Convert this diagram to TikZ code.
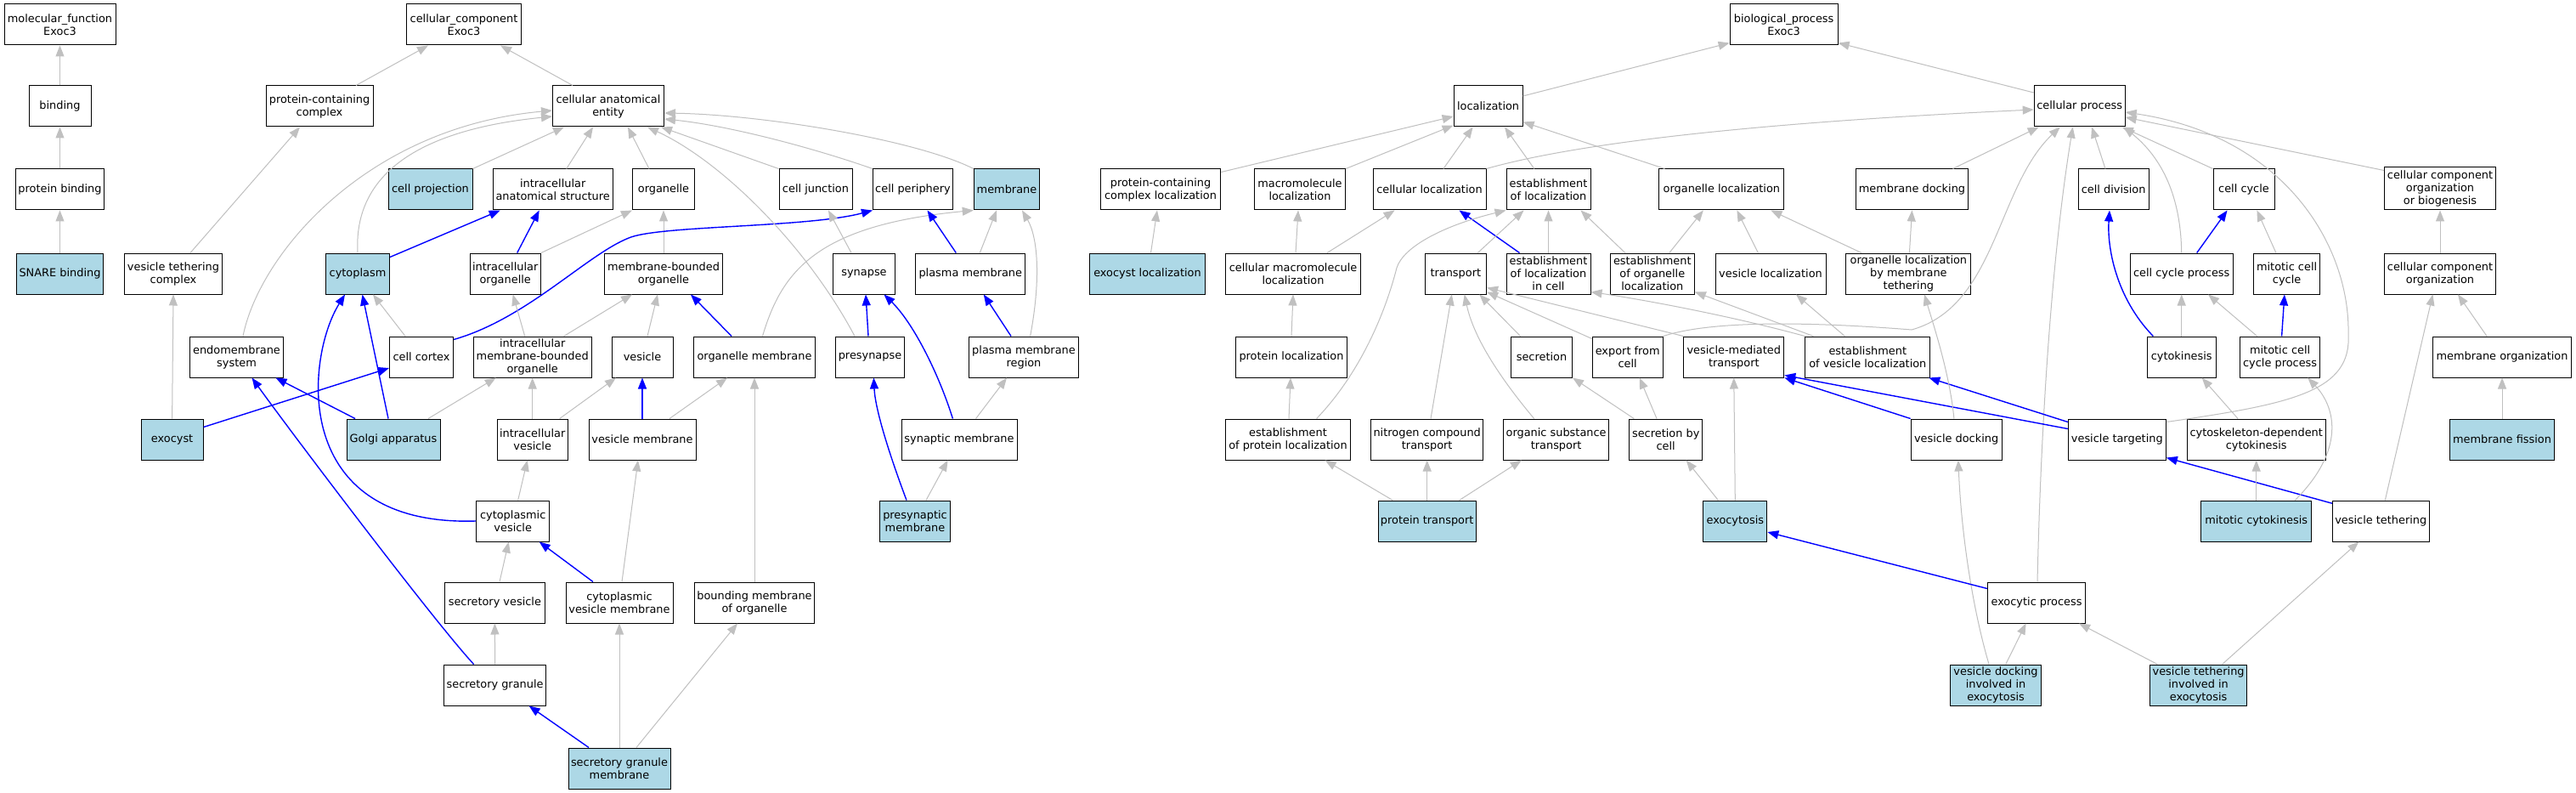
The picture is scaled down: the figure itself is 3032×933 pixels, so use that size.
\documentclass[tikz,border=0pt]{standalone}
\usepackage{fontspec}
\setmainfont{DejaVu Sans}
\usetikzlibrary{arrows.meta}
\definecolor{edgegray}{RGB}{192,192,192}
\definecolor{termblue}{RGB}{173,216,230}
\begin{document}
\begin{tikzpicture}[x=1pt,y=-1pt,
  box/.style={draw=black, line width=1pt, fill=white, rectangle, minimum height=48pt, inner sep=1pt, align=center, font=\fontsize{12.9}{15}\selectfont},
  hit/.style={box, fill=termblue},
  isa/.style={draw=edgegray, line width=1pt, -{Triangle[length=13pt,width=10pt]}},
  po/.style={draw=blue, line width=1.4pt, -{Triangle[length=13pt,width=10pt]}}
]
\useasboundingbox (0,0) rectangle (3032,933);
\fill[white] (0,0) rectangle (3032,933);

% ---------- molecular function ----------
\node[box, minimum width=131] (mf) at (70.5,29) {molecular\_function\\Exoc3};
\node[box, minimum width=73] (bind) at (70.5,125) {binding};
\node[box, minimum width=104] (pbind) at (70.5,223) {protein binding};
\node[hit, minimum width=102] (snare) at (70.5,322) {SNARE binding};

% ---------- cellular component ----------
\node[box, minimum width=135] (cc) at (546,29) {cellular\_component\\Exoc3};
\node[box, minimum width=126] (pcc) at (376,125) {protein-containing\\complex};
\node[box, minimum width=131] (cae) at (716,125) {cellular anatomical\\entity};
\node[hit, minimum width=99] (cproj) at (506.5,223) {cell projection};
\node[box, minimum width=141] (ias) at (650.7,223) {intracellular\\anatomical structure};
\node[box, minimum width=73] (org) at (781,223) {organelle};
\node[box, minimum width=86] (cjunc) at (960,223) {cell junction};
\node[box, minimum width=94] (cper) at (1074.5,223) {cell periphery};
\node[hit, minimum width=77.5] (memb) at (1185,223) {membrane};
\node[box, minimum width=115] (vtc) at (204,322) {vesicle tethering\\complex};
\node[hit, minimum width=75] (cyto) at (421,322) {cytoplasm};
\node[box, minimum width=83.4] (iorg) at (594.7,322) {intracellular\\organelle};
\node[box, minimum width=139] (mbo) at (781,322) {membrane-bounded\\organelle};
\node[box, minimum width=73] (syn) at (1017,322) {synapse};
\node[box, minimum width=129] (pm) at (1142.3,322) {plasma membrane};
\node[box, minimum width=110] (ems) at (278.5,420) {endomembrane\\system};
\node[box, minimum width=75] (cctx) at (496,420) {cell cortex};
\node[box, minimum width=139] (imbo) at (626.7,420) {intracellular\\membrane-bounded\\organelle};
\node[box, minimum width=72] (ves) at (756,420) {vesicle};
\node[box, minimum width=142.5] (orgm) at (888,420) {organelle membrane};
\node[box, minimum width=81] (presyn) at (1024,420) {presynapse};
\node[box, minimum width=129.4] (pmr) at (1205,420) {plasma membrane\\region};
\node[hit, minimum width=73] (exocyst) at (202.6,517) {exocyst};
\node[hit, minimum width=110] (golgi) at (463,517) {Golgi apparatus};
\node[box, minimum width=83.4] (ives) at (626.7,517) {intracellular\\vesicle};
\node[box, minimum width=126] (vesm) at (756,517) {vesicle membrane};
\node[box, minimum width=136] (synm) at (1129,517) {synaptic membrane};
\node[box, minimum width=86] (cves) at (603.7,613) {cytoplasmic\\vesicle};
\node[hit, minimum width=83] (psm) at (1077,613) {presynaptic\\membrane};
\node[box, minimum width=118] (secves) at (582.4,709) {secretory vesicle};
\node[box, minimum width=126] (cvm) at (729,709) {cytoplasmic\\vesicle membrane};
\node[box, minimum width=141.5] (bmo) at (888,709) {bounding membrane\\of organelle};
\node[box, minimum width=120] (secg) at (582.6,806) {secretory granule};
\node[hit, minimum width=120] (sgm) at (729,904) {secretory granule\\membrane};

% ---------- biological process ----------
\node[box, minimum width=127] (bp) at (2099.6,29) {biological\_process\\Exoc3};
\node[box, minimum width=81] (loc) at (1751.6,125) {localization};
\node[box, minimum width=107] (cp) at (2447.7,125) {cellular process};
\node[box, minimum width=141.5] (pccl) at (1366,223) {protein-containing\\complex localization};
\node[box, minimum width=107] (mloc) at (1530,223) {macromolecule\\localization};
\node[box, minimum width=133] (cloc) at (1682.5,223) {cellular localization};
\node[box, minimum width=99] (eloc) at (1822.5,223) {establishment\\of localization};
\node[box, minimum width=147] (oloc) at (2026.4,223) {organelle localization};
\node[box, minimum width=131.5] (mdock) at (2250.5,223) {membrane docking};
\node[box, minimum width=83] (cdiv) at (2487.6,223) {cell division};
\node[box, minimum width=72] (ccyc) at (2641,223) {cell cycle};
\node[box, minimum width=131, minimum height=50] (ccob) at (2872,222) {cellular component\\organization\\or biogenesis};
\node[hit, minimum width=136] (exloc) at (1350.5,322) {exocyst localization};
\node[box, minimum width=158.6] (cmloc) at (1522,322) {cellular macromolecule\\localization};
\node[box, minimum width=72.6] (trans) at (1713.3,322) {transport};
\node[box, minimum width=99] (elocc) at (1822.5,322) {establishment\\of localization\\in cell};
\node[box, minimum width=99] (eoloc) at (1944.8,322) {establishment\\of organelle\\localization};
\node[box, minimum width=130] (vloc) at (2084,322) {vesicle localization};
\node[box, minimum width=147] (olmt) at (2246.4,322) {organelle localization\\by membrane\\tethering};
\node[box, minimum width=121] (ccp) at (2567.7,322) {cell cycle process};
\node[box, minimum width=78] (mcc) at (2691.6,322) {mitotic cell\\cycle};
\node[box, minimum width=131] (cco) at (2872,322) {cellular component\\organization};
\node[box, minimum width=131] (ploc) at (1520,420) {protein localization};
\node[box, minimum width=72] (secr) at (1814.5,420) {secretion};
\node[box, minimum width=83] (efc) at (1915.7,420) {export from\\cell};
\node[box, minimum width=118] (vmt) at (2040.8,420) {vesicle-mediated\\transport};
\node[box, minimum width=147] (evloc) at (2198.3,420) {establishment\\of vesicle localization};
\node[box, minimum width=81] (ckin) at (2567.7,420) {cytokinesis};
\node[box, minimum width=94] (mccp) at (2683.6,420) {mitotic cell\\cycle process};
\node[box, minimum width=163] (morg) at (2945,420) {membrane organization};
\node[box, minimum width=147] (eploc) at (1516,517) {establishment\\of protein localization};
\node[box, minimum width=132] (nct) at (1679.7,517) {nitrogen compound\\transport};
\node[box, minimum width=123.4] (ost) at (1831.6,517) {organic substance\\transport};
\node[box, minimum width=86] (sbc) at (1960.7,517) {secretion by\\cell};
\node[box, minimum width=107] (vdock) at (2302.6,517) {vesicle docking};
\node[box, minimum width=115] (vtarg) at (2491.8,517) {vesicle targeting};
\node[box, minimum width=163] (cdc) at (2655.7,517) {cytoskeleton-dependent\\cytokinesis};
\node[hit, minimum width=123] (mfis) at (2945,517) {membrane fission};
\node[hit, minimum width=115] (ptrans) at (1679.7,613) {protein transport};
\node[hit, minimum width=75] (exocy) at (2042.3,613) {exocytosis};
\node[hit, minimum width=130] (mcyt) at (2655.7,613) {mitotic cytokinesis};
\node[box, minimum width=114] (vteth) at (2802.3,613) {vesicle tethering};
\node[box, minimum width=115] (exop) at (2397,709) {exocytic process};
\node[hit, minimum width=107] (vdie) at (2349,806) {vesicle docking\\involved in\\exocytosis};
\node[hit, minimum width=114.7] (vtie) at (2587.6,806) {vesicle tethering\\involved in\\exocytosis};

% ---------- MF edges ----------
\draw[isa] (bind.north) -- (mf.south);
\draw[isa] (pbind.north) -- (bind.south);
\draw[isa] (snare.north) -- (pbind.south);

% ---------- CC edges ----------
\draw[isa] ([xshift=43]pcc.north) -- ([xshift=-42]cc.south);
\draw[isa] ([xshift=-42]cae.north) -- ([xshift=43]cc.south);
\draw[isa] ([xshift=20]vtc.north) -- ([xshift=-23]pcc.south);
\draw[isa] (cproj.north east) -- ([xshift=-52]cae.south);
\draw[isa] ([xshift=16]ias.north) -- ([xshift=-18]cae.south);
\draw[isa] ([xshift=-17]org.north) -- ([xshift=23]cae.south);
\draw[isa] (cjunc.north west) -- ([xshift=62]cae.south);
\draw[isa] (cper.north west) .. controls (960,175) and (860,148) .. ([yshift=-15]cae.east);
\draw[isa] (memb.north west) .. controls (1080,165) and (900,135) .. ([yshift=-8]cae.east);
\draw[isa] (cyto.north) .. controls (415,190) and (520,150) .. ([yshift=-12]cae.west);
\draw[isa] ([xshift=7.5]ems.north) .. controls (305,300) and (430,150) .. ([yshift=-5]cae.west);
\draw[isa] (exocyst.north) -- (vtc.south);
\draw[po] ([yshift=-5]cyto.north east) -- ([xshift=-62]ias.south);
\draw[po] ([xshift=14]iorg.north) -- ([xshift=-16]ias.south);
\draw[isa] (iorg.north east) -- (org.south west);
\draw[isa] (mbo.north) -- (org.south);
\draw[isa] ([xshift=-19]cctx.north) -- ([xshift=18]cyto.south);
\draw[po] ([yshift=-4]cctx.north east) .. controls (620,375) and (690,300) .. (740,280) .. controls (775,265) and (950,268) .. (cper.south west);
\draw[po] ([xshift=-6]golgi.north) -- ([xshift=5.5]cyto.south);
\draw[po] (cves.west) .. controls (340,620) and (360,420) .. ([xshift=-15]cyto.south);
\draw[po] ([xshift=-45]golgi.north) -- ([xshift=46]ems.south);
\draw[po] ([xshift=-25]secg.north) .. controls (510,730) and (340,505) .. ([xshift=18]ems.south);
\draw[po] ([yshift=-10]exocyst.north east) -- ([yshift=-13]cctx.west);
\draw[isa] ([xshift=41]golgi.north) -- ([xshift=-43]imbo.south);
\draw[isa] ([xshift=-9]imbo.north) -- ([xshift=9]iorg.south);
\draw[isa] ([xshift=37]imbo.north) -- ([xshift=-37]mbo.south);
\draw[isa] ([xshift=6]ves.north) -- ([xshift=-7]mbo.south);
\draw[po] ([xshift=-27]orgm.north) -- ([xshift=32]mbo.south);
\draw[isa] ([xshift=9.5]orgm.north) .. controls (920,320) and (960,265) .. (memb.south west);
\draw[isa] (ives.north) -- (imbo.south);
\draw[isa] ([xshift=32]ives.north) -- ([xshift=-31]ves.south);
\draw[po] (vesm.north) -- (ves.south);
\draw[isa] ([xshift=32]vesm.north) -- ([xshift=-32]orgm.south);
\draw[isa] ([xshift=6]cves.north) -- ([xshift=-6]ives.south);
\draw[isa] ([xshift=5.6]secves.north) -- ([xshift=-5]cves.south);
\draw[po] ([xshift=-31]cvm.north) -- ([xshift=31]cves.south);
\draw[isa] ([xshift=3]cvm.north) -- ([xshift=-5]vesm.south);
\draw[isa] (secg.north) -- (secves.south);
\draw[po] ([xshift=-36]sgm.north) -- ([xshift=40]secg.south);
\draw[isa] (sgm.north) -- (cvm.south);
\draw[isa] ([xshift=20]sgm.north) -- ([xshift=-20]bmo.south);
\draw[isa] (bmo.north) -- (orgm.south);
\draw[isa] ([xshift=-15]syn.north) -- ([xshift=15]cjunc.south);
\draw[isa] ([xshift=-18]presyn.north) .. controls (950,290) and (850,190) .. ([xshift=46]cae.south);
\draw[po] ([xshift=-17]pm.north) -- ([xshift=17]cper.south);
\draw[isa] ([xshift=11]pm.north) -- ([xshift=-12]memb.south);
\draw[isa] ([xshift=7.6]pmr.north) .. controls (1225,330) and (1222,280) .. ([xshift=18]memb.south);
\draw[po] ([xshift=-2]presyn.north) -- ([xshift=2]syn.south);
\draw[po] ([xshift=-7.6]synm.north) .. controls (1105,440) and (1075,380) .. ([xshift=23.5]syn.south);
\draw[po] ([xshift=-15]pmr.north) -- ([xshift=15.5]pm.south);
\draw[isa] ([xshift=19.6]synm.north) -- ([xshift=-20]pmr.south);
\draw[po] ([xshift=-10]psm.north) .. controls (1045,530) and (1030,480) .. ([xshift=4.4]presyn.south);
\draw[isa] ([xshift=13]psm.north) -- ([xshift=-13.4]synm.south);

% ---------- BP edges ----------
\draw[isa] ([yshift=12]loc.east) -- ([yshift=3]bp.south west);
\draw[isa] ([yshift=16]cp.west) -- ([yshift=3]bp.south east);
\draw[isa] ([yshift=-4]pccl.north east) -- ([yshift=-12]loc.west);
\draw[isa] (mloc.north east) -- ([yshift=2]loc.south west);
\draw[isa] ([xshift=16.4]cloc.north) -- ([xshift=-18]loc.south);
\draw[isa] ([xshift=-16.7]eloc.north) -- ([xshift=19.4]loc.south);
\draw[isa] ([xshift=7]oloc.north west) -- ([yshift=6]loc.south east);
\draw[isa] (cloc.north east) .. controls (1850,170) and (2050,145) .. ([yshift=-4]cp.west);
\draw[isa] ([xshift=4]exloc.north) -- ([xshift=-4]pccl.south);
\draw[isa] ([xshift=3]cmloc.north) -- ([xshift=-2]mloc.south);
\draw[isa] ([xshift=40]cmloc.north) -- ([xshift=-41]cloc.south);
\draw[po] ([xshift=-34]elocc.north) -- ([xshift=35]cloc.south);
\draw[isa] (elocc.north) -- (eloc.south);
\draw[isa] ([xshift=26]trans.north) -- ([xshift=-29]eloc.south);
\draw[isa] ([xshift=33.6]eploc.north) .. controls (1600,440) and (1630,370) .. (1644,315) .. controls (1652,290) and (1700,265) .. (eloc.south west);
\draw[isa] ([xshift=-32]eoloc.north) -- ([xshift=38]eloc.south);
\draw[isa] ([xshift=20]eoloc.north) -- ([xshift=-21.6]oloc.south);
\draw[isa] ([xshift=-14.6]vloc.north) -- ([xshift=18]oloc.south);
\draw[isa] ([xshift=-55.4]olmt.north) -- ([xshift=58]oloc.south);
\draw[isa] ([xshift=1]olmt.north) -- (mdock.south);
\draw[isa] ([xshift=48]mdock.north) -- ([xshift=-48]cp.south);
\draw[isa] ([xshift=-9.6]cdiv.north) -- ([xshift=14.3]cp.south);
\draw[isa] (ccyc.north west) -- ([xshift=-4]cp.south east);
\draw[isa] ([yshift=-4]ccob.north west) -- ([yshift=-13]cp.east);
\draw[isa] (ccp.north) .. controls (2567,240) and (2550,190) .. ([xshift=-2]cp.south east);
\draw[isa] ([yshift=-4]vtarg.north east) .. controls (2700,475) and (2768,460) .. (2764,393) .. controls (2766,290) and (2690,160) .. ([yshift=-7]cp.east);
\draw[isa] (efc.north east) .. controls (2020,375) and (2150,380) .. (2250,388) .. controls (2350,360) and (2350,220) .. ([xshift=-23]cp.south);
\draw[isa] ([xshift=1]exop.north) .. controls (2402,500) and (2415,300) .. ([xshift=-8]cp.south);
\draw[po] ([xshift=-33.4]ckin.north) .. controls (2490,350) and (2480,290) .. ([xshift=-4.6]cdiv.south);
\draw[po] ([xshift=18]ccp.north) -- ([xshift=-19.5]ccyc.south);
\draw[isa] ([xshift=-12.7]mcc.north) -- ([xshift=15.4]ccyc.south);
\draw[isa] (cco.north) -- (ccob.south);
\draw[isa] (ckin.north) -- (ccp.south);
\draw[isa] ([xshift=-27]mccp.north) -- ([xshift=31.4]ccp.south);
\draw[po] ([xshift=2]mccp.north) -- ([xshift=-2.7]mcc.south);
\draw[isa] ([xshift=-18]morg.north) -- ([xshift=21]cco.south);
\draw[isa] (mfis.north) -- (morg.south);
\draw[isa] ([xshift=5]vteth.north) -- ([xshift=-8.6]cco.south);
\draw[po] ([yshift=-3.7]vteth.north west) -- ([yshift=3]vtarg.south east);
\draw[isa] ([xshift=-21.7]cdc.north) -- ([xshift=24]ckin.south);
\draw[isa] (mcyt.north) -- (cdc.south);
\draw[isa] ([xshift=45.6]mcyt.north) .. controls (2760,530) and (2750,480) .. ([xshift=32.7]mccp.south);
\draw[isa] ([xshift=-8]vdie.north) .. controls (2320,710) and (2308,620) .. ([xshift=2.3]vdock.south);
\draw[isa] ([xshift=11.7]vdie.north) -- ([xshift=-12.4]exop.south);
\draw[isa] ([xshift=-48.4]vtie.north) -- ([xshift=50]exop.south);
\draw[isa] ([xshift=28]vtie.north) -- ([xshift=-26]vteth.south);
\draw[po] ([yshift=-8]exop.north west) -- ([yshift=-13]exocy.east);
\draw[po] (vdock.north west) -- (vmt.south east);
\draw[po] ([yshift=-12]vtarg.north west) -- ([yshift=3]vmt.south east);
\draw[po] ([yshift=-4]vtarg.north west) -- ([xshift=-2]evloc.south east);
\draw[isa] (exocy.north) -- (vmt.south);
\draw[isa] ([xshift=-20]exocy.north) -- ([xshift=24]sbc.south);
\draw[isa] ([xshift=6]sbc.north west) -- (secr.south east);
\draw[isa] ([xshift=-10.7]sbc.north) -- ([xshift=14]efc.south);
\draw[isa] ([xshift=-25]secr.north) -- ([xshift=28]trans.south);
\draw[isa] ([xshift=4.3]nct.north) -- ([xshift=-4.5]trans.south);
\draw[isa] ([xshift=-26]ost.north) .. controls (1770,450) and (1735,400) .. ([xshift=10.4]trans.south);
\draw[isa] ([yshift=-3]efc.north west) -- ([yshift=3]trans.south east);
\draw[isa] (vmt.north west) -- ([yshift=8]trans.south east);
\draw[isa] (evloc.north west) .. controls (2050,375) and (1950,355) .. ([yshift=3]elocc.south east);
\draw[isa] ([xshift=10]evloc.north west) -- ([yshift=3]eoloc.south east);
\draw[isa] ([xshift=-27]evloc.north) -- ([xshift=30]vloc.south);
\draw[isa] ([xshift=-2.7]vdock.north) .. controls (2295,440) and (2275,380) .. ([xshift=18.6]olmt.south);
\draw[isa] ([xshift=-40.6]ptrans.north) -- ([xshift=43.6]eploc.south);
\draw[isa] (ptrans.north) -- (nct.south);
\draw[isa] ([xshift=38]ptrans.north) -- ([xshift=-40.7]ost.south);
\draw[isa] ([xshift=1]eploc.north) -- ([xshift=-1]ploc.south);
\draw[isa] (ploc.north) -- (cmloc.south);
\end{tikzpicture}
\end{document}
